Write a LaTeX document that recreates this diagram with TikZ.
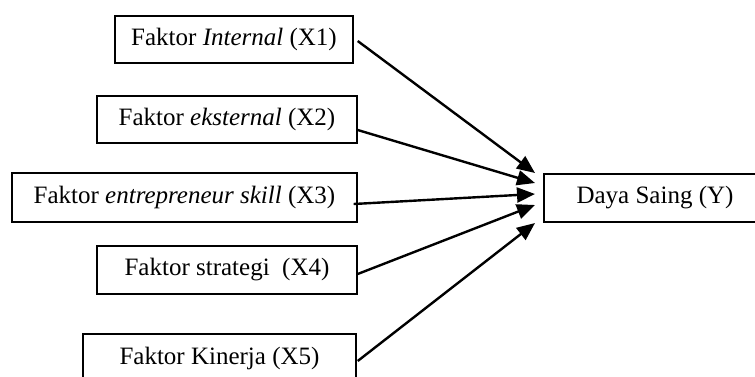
\documentclass[tikz,border=0pt]{standalone}
\usepackage{fontspec}
\setmainfont{Liberation Serif}
\usetikzlibrary{arrows.meta}

\begin{document}
\begin{tikzpicture}[x = 1pt, y = -1pt,
	faktor/.style = {draw, line width = 1.4pt, inner sep = 0pt, minimum height = 47pt, font = \fontsize{25}{30}\selectfont},
	panah/.style = {line width = 2.4pt, -{Triangle[length = 18pt, width = 15pt]}}]
					\useasboundingbox (0, 0) rectangle (755, 376);
					\clip (0, 0) rectangle (755, 376);
					\node[faktor, minimum width = 238pt] (x1) at (234, 39.5) {Faktor \textit{Internal} (X1)};
					\node[faktor, minimum width = 260pt] (x2) at (227, 119.5) {Faktor \textit{eksternal} (X2)};
					\node[faktor, minimum width = 345pt, minimum height = 49pt] (x3) at (184.5, 197.5) {Faktor \textit{entrepreneur skill} (X3)};
					\node[faktor, minimum width = 260pt, minimum height = 48pt] (x4) at (227, 270) {Faktor strategi\ \ (X4)};
					\node[faktor, minimum width = 273pt, minimum height = 48pt] (x5) at (219.5, 358) {Faktor Kinerja (X5)};
					\node[faktor, minimum width = 222pt, minimum height = 48pt] (y) at (655, 198) {Daya Saing (Y)};
					\coordinate (t1) at (535, 173);
					\coordinate (t2) at (535, 183);
					\coordinate (t3) at (535, 194);
					\coordinate (t4) at (535, 205);
					\coordinate (t5) at (535, 223);
					\draw[panah] ([xshift = 4pt, yshift = -1.5pt]x1.east) -- (t1);
					\draw[panah] ([yshift = -10.5pt]x2.east) -- (t2);
					\draw[panah] ([xshift = -4pt, yshift = -6.5pt]x3.east) -- (t3);
					\draw[panah] ([yshift = -4pt]x4.east) -- (t4);
					\draw[panah] ([xshift = 1pt, yshift = -3pt]x5.east) -- (t5);
				\end{tikzpicture}
\end{document}
